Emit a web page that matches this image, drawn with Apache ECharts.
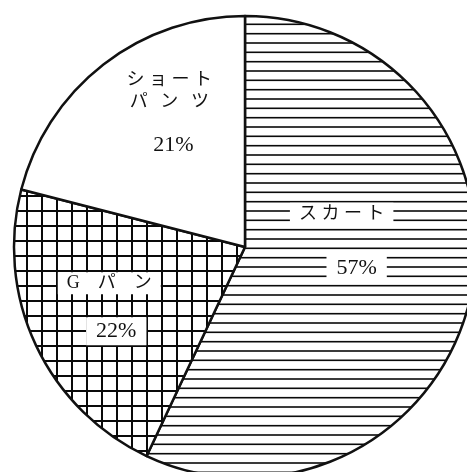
<!DOCTYPE html>
<html>
<head>
<meta charset="utf-8">
<script src="https://cdn.jsdelivr.net/npm/echarts@6/dist/echarts.min.js"></script>
<style>
html,body{margin:0;padding:0;background:#fff;}
#chart{width:467px;height:472px;}
</style>
</head>
<body>
<div id="chart"></div>
<script>
// ---- data ----
const categories = ['スカート', 'Gパン', 'ショートパンツ'];
const values = [57, 22, 21];
// displayed label lines (spaced as in the original print)
const nameLines = [['ス カ ー ト'], ['G　パ　ン'], ['シ ョ ー ト', 'パ  \u2009ン  \u2009ツ']];

// ---- styling / layout config ----
const labelCfg = [
  { nameLH: [54], pctLH: 54, pctShift: 30, d: [-19, -32] },
  { nameLH: [48], pctLH: 48, pctShift: 14, d: [-28.5, 9.8] },
  { nameLH: [22, 22], pctLH: 64, pctShift: 8, d: [-3, -30] }
];

function makeHatch() {
  const c = document.createElement('canvas');
  c.width = 20; c.height = 28;
  const g = c.getContext('2d');
  g.fillStyle = '#fff'; g.fillRect(0, 0, 20, 28);
  g.fillStyle = '#0a0a0a';
  [5.7, 15, 24.3].forEach(y => g.fillRect(0, y - 0.8, 20, 1.6));
  return c;
}
function makeGrid() {
  const c = document.createElement('canvas');
  c.width = 15; c.height = 15;
  const g = c.getContext('2d');
  g.fillStyle = '#fff'; g.fillRect(0, 0, 15, 15);
  g.fillStyle = '#0a0a0a';
  g.fillRect(11, 0, 2, 15);
  g.fillRect(0, 0, 15, 2);
  return c;
}
const fills = [
  { image: makeHatch(), repeat: 'repeat' },
  { image: makeGrid(), repeat: 'repeat' },
  '#ffffff'
];

const nameFont = '"Liberation Serif", "Noto Sans CJK JP", serif';
const pctFont = '"Liberation Serif", "DejaVu Serif", serif';

const seriesData = categories.map((name, i) => {
  const cfg = labelCfg[i];
  const rich = {
    p: { fontFamily: pctFont, fontSize: 22, color: '#111', backgroundColor: '#fff', padding: [3, 10], lineHeight: cfg.pctLH },
    s: { fontSize: 10, width: cfg.pctShift, lineHeight: cfg.pctLH }
  };
  const parts = nameLines[i].map((t, k) => {
    rich['n' + k] = { fontFamily: nameFont, fontSize: 18, color: '#111', backgroundColor: '#fff', padding: [2, 9], lineHeight: cfg.nameLH[k] };
    return '{n' + k + '|' + t + '}';
  });
  parts.push('{s| }{p|' + values[i] + '%}');
  return {
    name: name,
    value: values[i],
    itemStyle: { color: fills[i] },
    label: { formatter: parts.join('\n'), rich: rich }
  };
});

const chart = echarts.init(document.getElementById('chart'), null, { renderer: 'canvas' });
chart.setOption({
  animation: false,
  backgroundColor: '#fff',
  series: [{
    type: 'pie',
    center: [245, 247],
    radius: [0, 231],
    startAngle: 90,
    clockwise: true,
    silent: true,
    itemStyle: { borderColor: '#111', borderWidth: 2.5 },
    label: { show: true, position: 'inside' },
    labelLine: { show: false },
    labelLayout: function (p) {
      const d = labelCfg[p.dataIndex].d;
      return { dx: d[0], dy: d[1] };
    },
    emphasis: { disabled: true },
    data: seriesData
  }]
});
</script>
</body>
</html>
